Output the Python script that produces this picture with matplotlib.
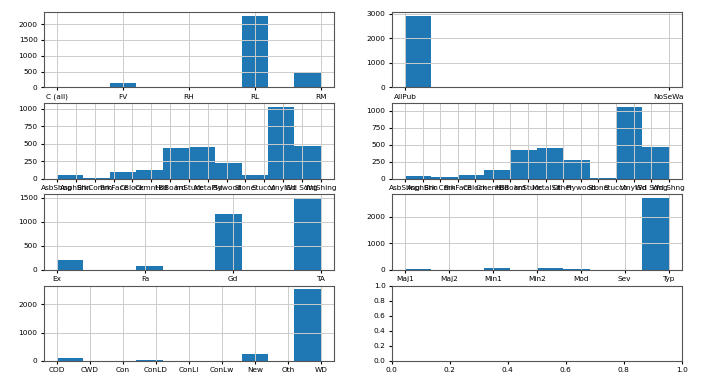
import numpy as np
import matplotlib
matplotlib.use("Agg")
import matplotlib.pyplot as plt

plt.rcParams['font.size'] = 5.3
plt.rcParams['xtick.major.size'] = 2.5
plt.rcParams['ytick.major.size'] = 2.5
plt.rcParams['xtick.major.pad'] = 2
plt.rcParams['ytick.major.pad'] = 2

# category counts per column (house prices data, train + test)
mszoning_cats = ['C (all)', 'FV', 'RH', 'RL', 'RM']
mszoning_counts = [25, 139, 26, 2265, 460]

utilities_cats = ['AllPub', 'NoSeWa']
utilities_counts = [2916, 1]

ext1_cats = ['AsbShng', 'AsphShn', 'BrkComm', 'BrkFace', 'CBlock', 'CemntBd', 'HdBoard',
             'ImStucc', 'MetalSd', 'Plywood', 'Stone', 'Stucco', 'VinylSd', 'Wd Sdng', 'WdShing']
ext1_counts = [44, 2, 6, 87, 2, 126, 442, 1, 450, 221, 2, 43, 1025, 411, 56]

ext2_cats = ['AsbShng', 'AsphShn', 'Brk Cmn', 'BrkFace', 'CBlock', 'CmentBd', 'HdBoard', 'ImStucc',
             'MetalSd', 'Other', 'Plywood', 'Stone', 'Stucco', 'VinylSd', 'Wd Sdng', 'Wd Shng']
ext2_counts = [38, 4, 22, 47, 3, 126, 406, 15, 447, 1, 270, 6, 47, 1014, 391, 81]

kitchen_cats = ['Ex', 'Fa', 'Gd', 'TA']
kitchen_counts = [205, 70, 1151, 1492]

functional_cats = ['Maj1', 'Maj2', 'Min1', 'Min2', 'Mod', 'Sev', 'Typ']
functional_counts = [19, 9, 65, 70, 35, 2, 2717]

saletype_cats = ['COD', 'CWD', 'Con', 'ConLD', 'ConLI', 'ConLw', 'New', 'Oth', 'WD']
saletype_counts = [87, 12, 5, 26, 9, 8, 239, 7, 2525]

columns = [
    (mszoning_cats, mszoning_counts),
    (utilities_cats, utilities_counts),
    (ext1_cats, ext1_counts),
    (ext2_cats, ext2_counts),
    (kitchen_cats, kitchen_counts),
    (functional_cats, functional_counts),
    (saletype_cats, saletype_counts),
]

fig, axes = plt.subplots(4, 2, figsize=(7.2, 3.76), dpi=100)
fig.subplots_adjust(left=0.061, right=0.947, bottom=0.04, top=0.968, wspace=0.2, hspace=0.21)

for ax in axes.flat:
    for s in ax.spines.values():
        s.set_color('#555555')

for ax, (cats, counts) in zip(axes.flat, columns):
    pos = np.arange(len(cats))
    ax.hist(pos, bins=10, weights=counts)
    ax.set_xticks(pos)
    ax.set_xticklabels(cats)
    ax.locator_params(axis='y', nbins=5)
    ax.grid(True, color='#cccccc', linewidth=0.7)

plt.savefig("out.png")
